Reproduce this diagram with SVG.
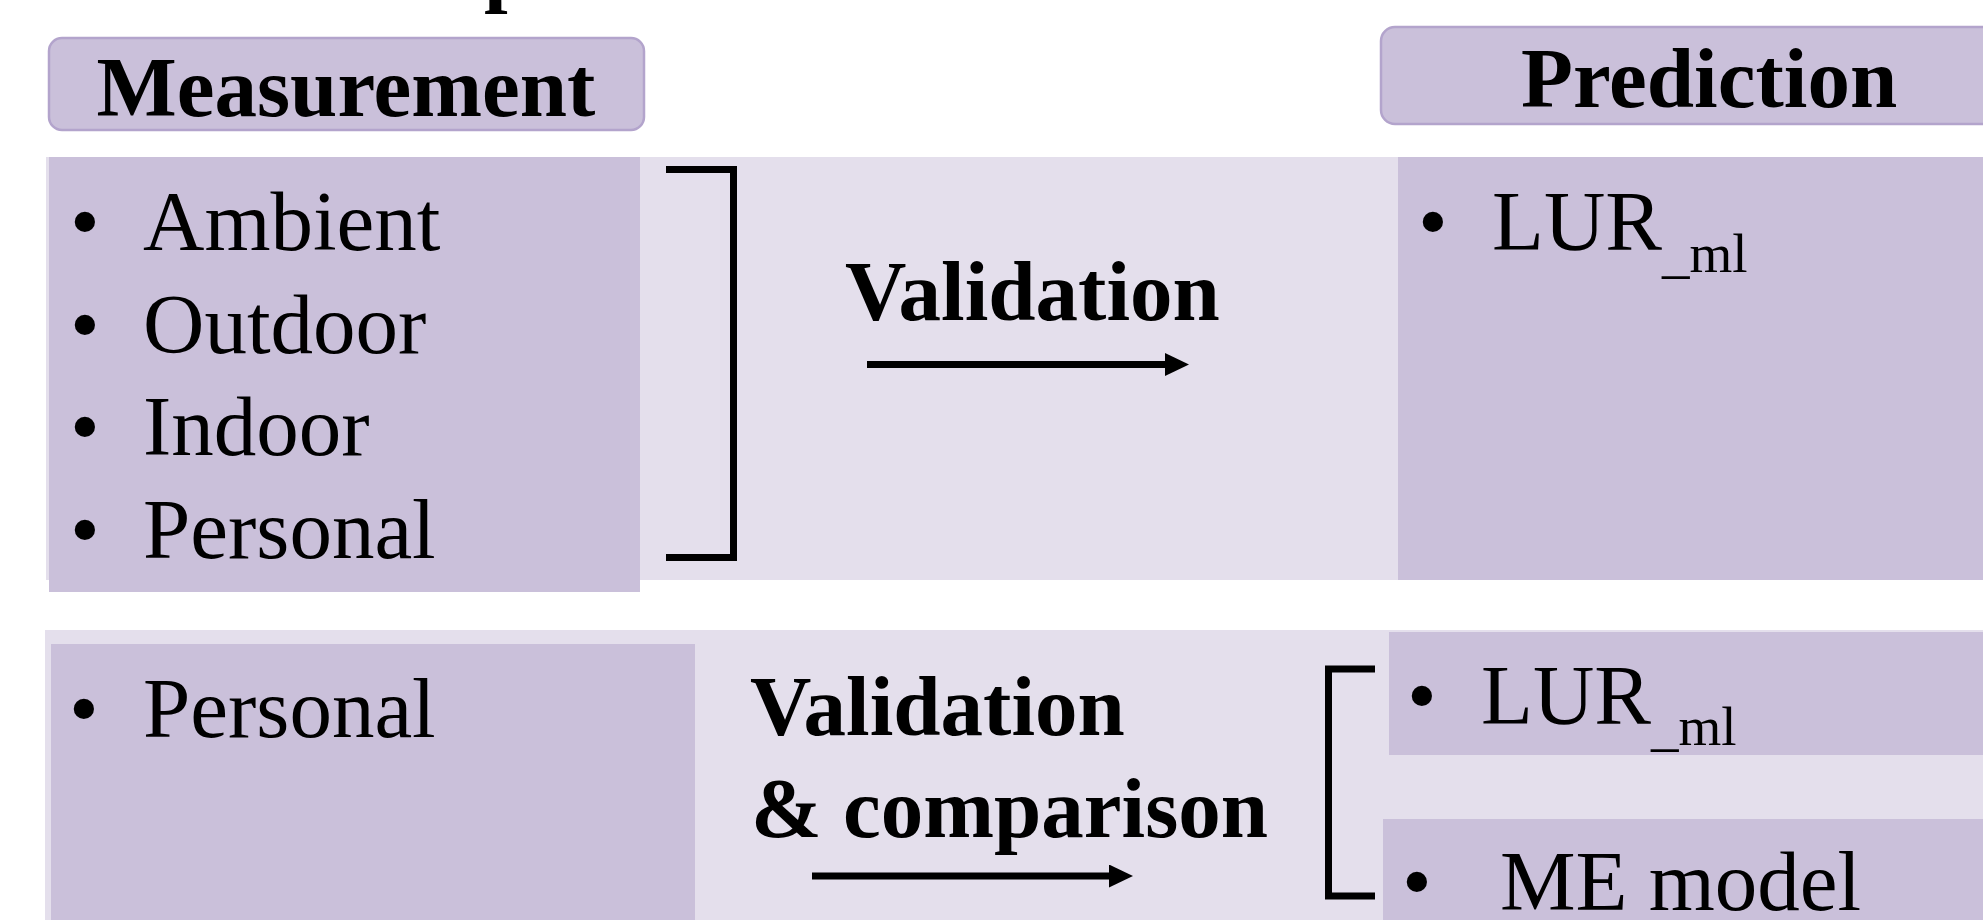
<svg xmlns="http://www.w3.org/2000/svg" width="1983" height="920" viewBox="0 0 1983 920">
  <style>
    .band { fill: #E4DFEC; }
    .panel { fill: #CAC0DA; }
    .head { fill: #CAC0DA; stroke: #B3A4CC; stroke-width: 2.5; }
    .t { font-family: "Liberation Serif", "Times New Roman", serif; font-size: 85px; fill: #000; }
    .b { font-weight: bold; }
    .sub { font-size: 55px; }
    .bul { text-anchor: middle; }
    .wire { fill: none; stroke: #000; stroke-width: 7; }
  </style>
  <defs>
    <marker id="arrowhead" markerUnits="userSpaceOnUse" markerWidth="26" markerHeight="24" refX="0" refY="11.5" orient="auto">
      <polygon points="0,0 24,11.5 0,23" fill="#000"/>
    </marker>
  </defs>

  <rect width="1983" height="920" fill="#fff"/>

  <!-- clipped title descender -->
  <text class="t b" x="484" y="-4" font-size="86">p</text>

  <!-- background bands -->
  <rect class="band" x="46" y="157" width="1937" height="423"/>
  <rect class="band" x="45" y="630" width="1938" height="290"/>

  <g id="measurement-header">
    <rect class="head" x="49" y="38" width="595" height="92" rx="13"/>
    <text class="t b" x="346" y="116" text-anchor="middle" font-size="86">Measurement</text>
  </g>

  <g id="prediction-header">
    <rect class="head" x="1381" y="27" width="660" height="97" rx="14"/>
    <text class="t b" x="1521" y="107">Prediction</text>
  </g>

  <g id="measurement-types">
    <rect class="panel" x="49" y="157" width="591" height="435"/>
    <text class="t bul" x="85" y="250">•</text>
    <text class="t" x="143" y="250">Ambient</text>
    <text class="t bul" x="85" y="353">•</text>
    <text class="t" x="143" y="353">Outdoor</text>
    <text class="t bul" x="85" y="455">•</text>
    <text class="t" x="143" y="455">Indoor</text>
    <text class="t bul" x="85" y="558">•</text>
    <text class="t" x="143" y="558">Personal</text>
  </g>

  <g id="prediction-lur">
    <rect class="panel" x="1398" y="157" width="585" height="423"/>
    <text class="t bul" x="1433" y="250">•</text>
    <text class="t" x="1492" y="250">LUR<tspan class="sub" dy="22">_ml</tspan></text>
  </g>

  <g id="measurement-personal">
    <rect class="panel" x="51" y="644" width="644" height="276"/>
    <text class="t bul" x="84" y="737">•</text>
    <text class="t" x="143" y="737">Personal</text>
  </g>

  <g id="model-lur">
    <rect class="panel" x="1389" y="632" width="594" height="123"/>
    <text class="t bul" x="1422" y="724">•</text>
    <text class="t" x="1481" y="724">LUR<tspan class="sub" dy="21">_ml</tspan></text>
  </g>

  <g id="model-me">
    <rect class="panel" x="1383" y="819" width="600" height="101"/>
    <text class="t bul" x="1417" y="910">•</text>
    <text class="t" x="1500" y="910">ME model</text>
  </g>

  <g id="connectors">
    <path class="wire" d="M666,169.5 H733.5 V557.5 H666"/>
    <text class="t b" x="845" y="320">Validation</text>
    <line class="wire" x1="867" y1="364.5" x2="1165" y2="364.5" marker-end="url(#arrowhead)"/>

    <path class="wire" d="M1375,669 H1328.5 V896 H1375"/>
    <text class="t b" x="750" y="735">Validation</text>
    <text class="t b" x="751" y="837">&amp; comparison</text>
    <line class="wire" x1="812" y1="876" x2="1109" y2="876" marker-end="url(#arrowhead)"/>
  </g>
</svg>
